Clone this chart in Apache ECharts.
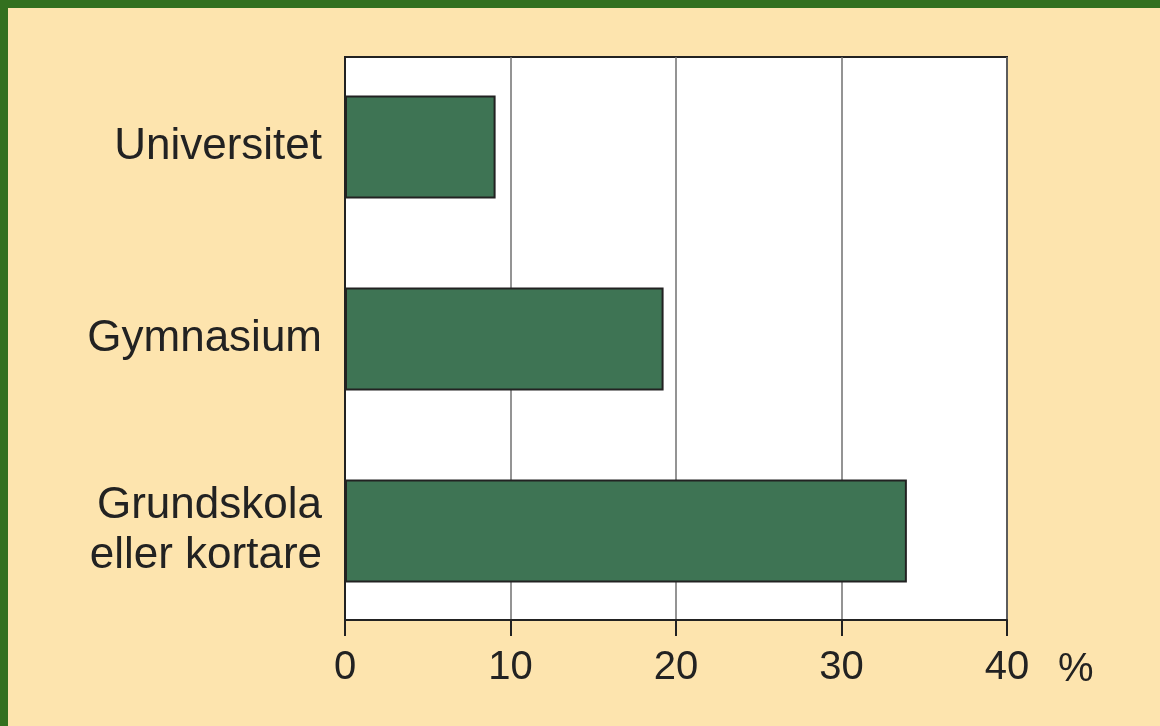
<!DOCTYPE html>
<html><head><meta charset="utf-8">
<script src="https://cdn.jsdelivr.net/npm/echarts@6/dist/echarts.min.js"></script>
<style>
html,body{margin:0;padding:0;background:#33701F;}
#c{position:absolute;left:8px;top:8px;width:1152px;height:718px;background:#FDE4AE;}
</style></head><body>
<div id="c"></div>
<script>
const categories = ['Grundskola\neller kortare', 'Gymnasium', 'Universitet'];
const values = [33.95, 19.25, 9.1];
const xTicks = [0, 10, 20, 30, 40];
const unitLabel = '%';

const xMin = xTicks[0], xMax = xTicks[xTicks.length - 1];
const chart = echarts.init(document.getElementById('c'));
chart.setOption({
  animation: false,
  backgroundColor: '#FDE4AE',
  grid: [
    {left: 337, top: 49, width: 662, height: 563, show: true, backgroundColor: '#ffffff', borderColor: '#222', borderWidth: 2},
    {left: 337, top: 43, width: 662, height: 576, show: false}
  ],
  xAxis: [{
    gridIndex: 0, type: 'value', min: xMin, max: xMax, interval: 10,
    axisLine: {show: true, lineStyle: {color: '#222', width: 2}},
    axisTick: {show: true, length: 16, lineStyle: {color: '#222', width: 2}},
    axisLabel: {color: '#222', fontSize: 40, fontFamily: 'Liberation Sans', margin: 28},
    splitLine: {show: true, lineStyle: {color: '#707070', width: 1.5}}
  }, {
    gridIndex: 1, type: 'value', min: xMin, max: xMax, show: false
  }],
  yAxis: [{
    gridIndex: 0, type: 'category', data: categories,
    axisLine: {show: true, lineStyle: {color: '#222', width: 2}},
    axisTick: {show: false}, axisLabel: {show: false}
  }, {
    gridIndex: 1, type: 'category', data: categories,
    axisLine: {show: false}, axisTick: {show: false},
    axisLabel: {color: '#222', fontSize: 44, fontFamily: 'Liberation Sans', margin: 23, lineHeight: 50, align: 'right'}
  }],
  series: [{
    type: 'bar', xAxisIndex: 1, yAxisIndex: 1, data: values, barWidth: 103,
    itemStyle: {color: '#3E7454', borderColor: '#222', borderWidth: 2}
  }],
  graphic: [{type: 'text', left: 1050, top: 642, style: {text: unitLabel, fill: '#222', font: '40px "Liberation Sans"'}}]
});
</script></body></html>
